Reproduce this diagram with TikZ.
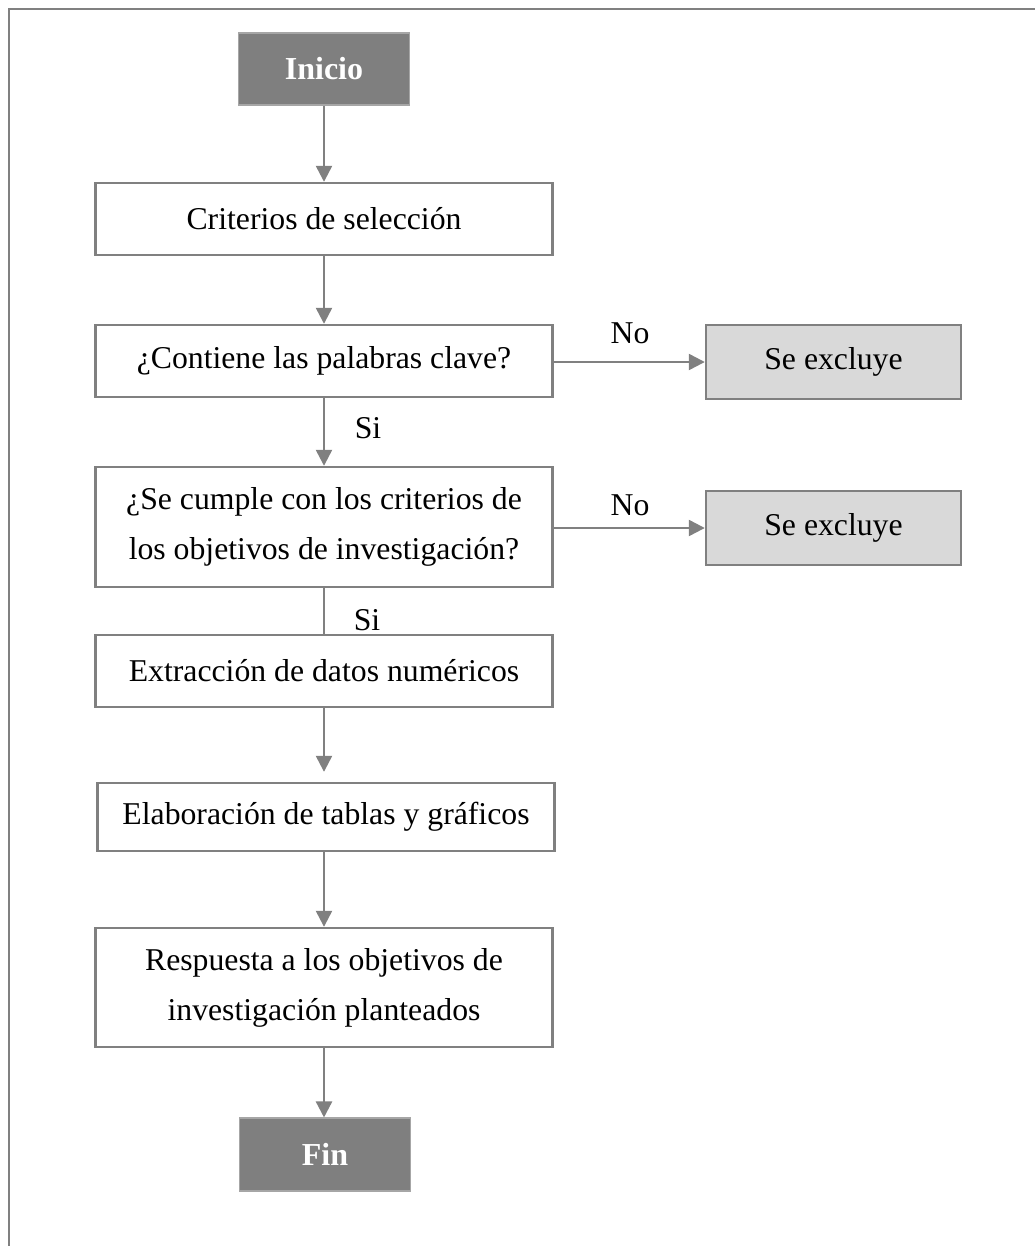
\documentclass[tikz,border=0pt]{standalone}
\usepackage{fontspec}
\setmainfont{Liberation Serif}
\usetikzlibrary{arrows.meta,calc}
\definecolor{lnc}{HTML}{808080}
\definecolor{darkfill}{HTML}{7F7F7F}
\definecolor{lightfill}{HTML}{D9D9D9}
\tikzset{
  x=0.75pt, y=-0.75pt,
  txt/.style={font=\fontsize{23.8}{37.5}\selectfont, text=black},
  procbox/.style={txt, draw=lnc, line width=1.8pt, fill=white, minimum width=457*0.75pt, inner sep=0pt, align=center},
  exbox/.style={txt, draw=lnc, line width=1.8pt, fill=lightfill, minimum width=255*0.75pt, minimum height=74*0.75pt, inner sep=0pt},
  termbox/.style={font=\fontsize{24}{28}\selectfont\bfseries, text=white, draw=lnc!70, line width=0.8pt, fill=darkfill, minimum width=171*0.75pt, minimum height=72*0.75pt, inner sep=0pt},
  conn/.style={draw=lnc, line width=1.8pt},
  arr/.style={conn, -{Triangle[length=12pt,width=12pt]}},
  lbl/.style={txt, inner sep=0pt}
}
\begin{document}
\begin{tikzpicture}
\useasboundingbox (0,0) rectangle (1035,1246);
% outer frame (top and left edges)
\draw[lnc, line width=2pt] (9,1246) -- (9,9) -- (1035,9);

\node[termbox] (inicio) at (324,69) {Inicio};
\node[procbox, minimum height=72*0.75pt] (crit) at (324,219) {Criterios de selección};
\node[procbox, minimum height=72*0.75pt] (cont) at (324,361) {¿Contiene las palabras clave?};
\node[procbox, minimum height=120*0.75pt] (cumple) at (324,527) {¿Se cumple con los criterios de\\los objetivos de investigación?};
\node[procbox, minimum height=72*0.75pt] (extr) at (324,671) {Extracción de datos numéricos};
\node[procbox, minimum height=68*0.75pt] (elab) at (326,817) {Elaboración de tablas y gráficos};
\node[procbox, minimum height=119*0.75pt] (resp) at (324,987.5) {Respuesta a los objetivos de\\investigación planteados};
\node[termbox, minimum height=73*0.75pt] (fin) at (325,1154.5) {Fin};

\node[exbox] (ex1) at (833.5,362) {Se excluye};
\node[exbox] (ex2) at (833.5,528) {Se excluye};

\coordinate (ax) at (324,0);

\draw[arr] (inicio.south -| ax) -- (crit.north -| ax);
\draw[arr] (crit.south -| ax) -- (cont.north -| ax);
\draw[arr] (cont.south -| ax) -- (cumple.north -| ax);
\draw[conn] (cumple.south -| ax) -- (extr.north -| ax);
\draw[arr] (extr.south -| ax) -- ($(elab.north -| ax)+(0,-10)$);
\draw[arr] (elab.south -| ax) -- (resp.north -| ax);
\draw[arr] (resp.south -| ax) -- (fin.north -| ax);

\draw[arr] (cont.east |- ex1.west) -- (ex1.west);
\draw[arr] (cumple.east |- ex2.west) -- (ex2.west);

\node[lbl] (no1) at (630,333) {No};
\node[lbl] (no2) at (630,505) {No};
\node[lbl] (si1) at (368,428) {Si};
\node[lbl] (si2) at (367,620) {Si};
\end{tikzpicture}
\end{document}
